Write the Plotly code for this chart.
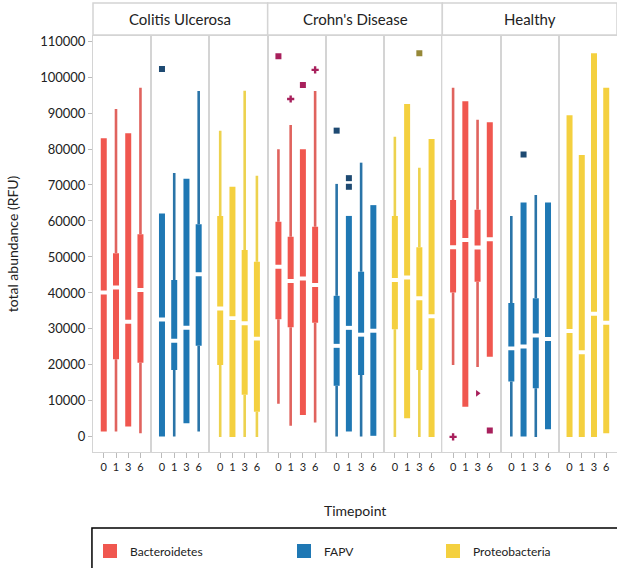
import plotly.graph_objects as go
from plotly.subplots import make_subplots

timepoints = ["0", "1", "3", "6"]
facets = ["Colitis Ulcerosa", "Crohn's Disease", "Healthy"]
phyla = ["Bacteroidetes", "FAPV", "Proteobacteria"]

# rows: (facet, phylum) in order CU-Bact, CU-FAPV, CU-Proteo, CD-..., H-...
# columns: timepoints 0, 1, 3, 6
whisker_low = [
    [1500, 1500, 2900, 1000],
    [100, 100, 3800, 1500],
    [0, 0, 0, 0],
    [9200, 3100, 6100, 4000],
    [100, 1500, 100, 300],
    [0, 5200, 0, 0],
    [20000, 8400, 19400, 22300],
    [100, 100, 0, 2100],
    [0, 0, 0, 1000],
]
q1 = [
    [1500, 21600, 2900, 20600],
    [100, 18600, 3800, 25300],
    [20000, 0, 11700, 7000],
    [32700, 30500, 6100, 31700],
    [14200, 1500, 17200, 300],
    [29900, 5200, 18600, 0],
    [40100, 8400, 43100, 22300],
    [15400, 100, 13500, 2100],
    [0, 0, 0, 1000],
]
median = [
    [40100, 41500, 32000, 40800],
    [32600, 26700, 30300, 45200],
    [35700, 33000, 31600, 27300],
    [47300, 43300, 44000, 42200],
    [25300, 30300, 28400, 29500],
    [43600, 44300, 38500, 33500],
    [52700, 54700, 52600, 54900],
    [24600, 25100, 28200, 27200],
    [29400, 23500, 34200, 31700],
]
q3 = [
    [83000, 51000, 84400, 56300],
    [62100, 43600, 71700, 59100],
    [61400, 69500, 51900, 48700],
    [59800, 55600, 79900, 58400],
    [39200, 61400, 45900, 64400],
    [61400, 92500, 52700, 82800],
    [65800, 93300, 63100, 87400],
    [37200, 65100, 38500, 65100],
    [89400, 78300, 106600, 97000],
]
whisker_high = [
    [83000, 91100, 84400, 97000],
    [62100, 73300, 71700, 96100],
    [85100, 69500, 96200, 72600],
    [79900, 86700, 79900, 96100],
    [70300, 61400, 76200, 64400],
    [83400, 92500, 74800, 82800],
    [97000, 93300, 88100, 87400],
    [61400, 65100, 67200, 65100],
    [89400, 78300, 106600, 97000],
]
# outliers: panel index, timepoint, value, marker symbol
outlier_panel = [1, 3, 3, 3, 3, 4, 4, 4, 5, 6, 6, 6, 7]
outlier_time = ["0", "0", "1", "3", "6", "0", "1", "1", "3", "0", "3", "6", "1"]
outlier_value = [102200, 105800, 93900, 97800, 102000, 85100, 71900, 69500,
                 106600, 0, 12100, 1800, 78500]
outlier_symbol = ["square", "square", "cross", "square", "cross", "square", "square",
                  "square", "square", "cross", "triangle-right", "square", "square"]

colors = {"Bacteroidetes": "#F0574F", "FAPV": "#1F78B4", "Proteobacteria": "#F4D03F"}
whisker_colors = {"Bacteroidetes": "#E0635E", "FAPV": "#2A74A8", "Proteobacteria": "#EDD24E"}
outlier_colors = {"Bacteroidetes": "#A8205C", "FAPV": "#1E4A72", "Proteobacteria": "#968838"}

FONT = "Lato"
GAP = 550
W_PX, H_PX = 617, 568
L, R, T, B = 93, 0, 36, 116
PANEL_H = H_PX - T - B  # 416

fig = make_subplots(rows=1, cols=9, shared_yaxes=True, horizontal_spacing=0)

for i, facet in enumerate(facets):
    for j, ph in enumerate(phyla):
        k = 3 * i + j
        col = k + 1
        wx, wy, bx, by = [], [], [], []
        for n, tp in enumerate(timepoints):
            lo, a, m, b, hi = (whisker_low[k][n], q1[k][n], median[k][n],
                               q3[k][n], whisker_high[k][n])
            if a > lo:
                wx += [tp, tp, None]
                wy += [lo, a, None]
            if hi > b:
                wx += [tp, tp, None]
                wy += [b, hi, None]
            bx += [tp, tp, None, tp, tp, None]
            by += [a, m - GAP, None, m + GAP, b, None]
        fig.add_trace(go.Scatter(x=wx, y=wy, mode="lines",
                                 line=dict(color=whisker_colors[ph], width=2.6),
                                 showlegend=False, hoverinfo="skip"), row=1, col=col)
        fig.add_trace(go.Scatter(x=bx, y=by, mode="lines",
                                 line=dict(color=colors[ph], width=6),
                                 showlegend=False, hoverinfo="skip"), row=1, col=col)
        ox = [outlier_time[q] for q in range(len(outlier_panel)) if outlier_panel[q] == k]
        oy = [outlier_value[q] for q in range(len(outlier_panel)) if outlier_panel[q] == k]
        osym = [outlier_symbol[q] for q in range(len(outlier_panel)) if outlier_panel[q] == k]
        if ox:
            fig.add_trace(go.Scatter(x=ox, y=oy, mode="markers",
                                     marker=dict(color=outlier_colors[ph], size=6,
                                                 symbol=osym, line=dict(width=0)),
                                     showlegend=False), row=1, col=col)

# legend entries (one legend each, to place them like the reference)
legend_x_px = [90, 284, 433]
for n, ph in enumerate(phyla):
    lg = "legend" if n == 0 else f"legend{n+1}"
    fig.add_trace(go.Scatter(x=[None], y=[None], mode="markers", name=ph,
                             marker=dict(color=colors[ph], size=14, symbol="square"),
                             legend=lg), row=1, col=1)

axis_line = "#d4d4d4"
for c in range(1, 10):
    fig.update_xaxes(type="category", categoryorder="array", categoryarray=timepoints,
                     tickmode="array", tickvals=timepoints, ticktext=timepoints,
                     range=[-0.88, 3.88], showline=True, mirror=True, linecolor=axis_line,
                     linewidth=1, ticks="outside", ticklen=5, tickcolor="#bbbbbb",
                     tickwidth=1, showgrid=False, zeroline=False,
                     tickfont=dict(family=FONT, size=11, color="#222"), row=1, col=c)
    fig.update_yaxes(range=[-4200, 111400], showline=True, mirror=True,
                     linecolor=axis_line, linewidth=1, showgrid=False, zeroline=False,
                     row=1, col=c)

fig.update_yaxes(tickvals=list(range(0, 110001, 10000)), tickformat="d",
                 ticks="outside", ticklen=4, tickcolor="#bbbbbb",
                 tickfont=dict(family=FONT, size=13, color="#222"),
                 title=dict(text="total abundance (RFU)",
                            font=dict(family=FONT, size=14, color="#222"), standoff=18),
                 row=1, col=1)


def py(v):
    return (H_PX - B - v) / PANEL_H


shapes = []
annotations = []
for i, facet in enumerate(facets):
    shapes.append(dict(type="rect", xref="paper", yref="paper",
                       x0=i / 3, x1=(i + 1) / 3, y0=py(35), y1=py(3),
                       line=dict(color=axis_line, width=1.5), fillcolor="white", layer="below"))
    annotations.append(dict(text=facet, xref="paper", yref="paper", x=(i + 0.5) / 3,
                            y=py(19), showarrow=False, xanchor="center", yanchor="middle",
                            font=dict(family=FONT, size=15, color="#222")))
annotations.append(dict(text="Timepoint", xref="paper", yref="paper", x=0.5, y=py(510),
                        showarrow=False, xanchor="center", yanchor="middle",
                        font=dict(family=FONT, size=14, color="#222")))
shapes.append(dict(type="rect", xref="paper", yref="paper", x0=-0.002, x1=1.02,
                   y0=py(580), y1=py(528), line=dict(color="black", width=1.5)))

PW = W_PX - L - R
legends = {}
for n in range(3):
    key = "legend" if n == 0 else f"legend{n+1}"
    legends[key] = dict(x=(legend_x_px[n] - L) / PW, y=py(551), xanchor="left",
                        yanchor="middle", orientation="h", bgcolor="rgba(0,0,0,0)",
                        borderwidth=0, font=dict(family=FONT, size=12, color="#222"),
                        itemwidth=30)

fig.update_layout(width=W_PX, height=H_PX, margin=dict(l=L, r=R, t=T, b=B),
                  plot_bgcolor="white", paper_bgcolor="white",
                  shapes=shapes, annotations=annotations, **legends)

fig.write_html("out.html")
